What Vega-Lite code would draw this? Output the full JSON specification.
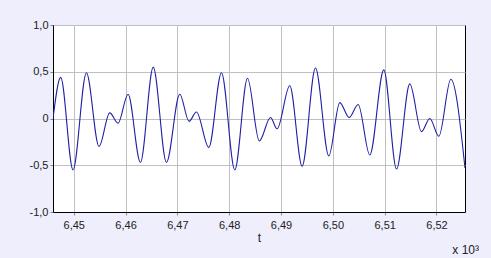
{
  "$schema": "https://vega.github.io/schema/vega-lite/v6.json",
  "autosize": "none",
  "width": 412,
  "height": 187,
  "padding": {"left": 53, "top": 25, "right": 26, "bottom": 46},
  "background": "#EEEEFC",
  "title": {"text": "x 10³", "orient": "bottom", "anchor": "end", "frame": "group", "dx": 14, "offset": 2, "font": "Liberation Sans", "fontSize": 12, "fontWeight": "normal", "color": "#222222"},
  "config": {
    "view": {"fill": "white", "stroke": "black", "strokeWidth": 1},
    "axis": {
      "labelFont": "Liberation Sans", "labelFontSize": 11, "labelColor": "#222222",
      "titleFont": "Liberation Sans", "titleFontSize": 12, "titleFontWeight": "normal", "titleColor": "#222222",
      "gridColor": "#C0C0C0", "gridOpacity": 1, "gridWidth": 1,
      "domainColor": "black", "tickColor": "#888888", "tickSize": 3
    }
  },
  "data": {"values": [
    {"t": 6.44600, "v": 0.00},
    {"t": 6.44749, "v": 0.44},
    {"t": 6.44986, "v": -0.55},
    {"t": 6.45245, "v": 0.49},
    {"t": 6.45488, "v": -0.30},
    {"t": 6.45695, "v": 0.06},
    {"t": 6.45855, "v": -0.05},
    {"t": 6.46048, "v": 0.26},
    {"t": 6.46287, "v": -0.47},
    {"t": 6.46534, "v": 0.55},
    {"t": 6.46789, "v": -0.47},
    {"t": 6.47046, "v": 0.26},
    {"t": 6.47225, "v": -0.03},
    {"t": 6.47368, "v": 0.07},
    {"t": 6.47606, "v": -0.31},
    {"t": 6.47851, "v": 0.49},
    {"t": 6.48108, "v": -0.55},
    {"t": 6.48353, "v": 0.43},
    {"t": 6.48581, "v": -0.24},
    {"t": 6.48797, "v": 0.01},
    {"t": 6.48924, "v": -0.11},
    {"t": 6.49169, "v": 0.35},
    {"t": 6.49407, "v": -0.51},
    {"t": 6.49665, "v": 0.54},
    {"t": 6.49922, "v": -0.40},
    {"t": 6.50134, "v": 0.17},
    {"t": 6.50314, "v": 0.01},
    {"t": 6.50488, "v": 0.15},
    {"t": 6.50713, "v": -0.39},
    {"t": 6.50983, "v": 0.52},
    {"t": 6.51229, "v": -0.54},
    {"t": 6.51485, "v": 0.37},
    {"t": 6.51711, "v": -0.14},
    {"t": 6.51871, "v": 0.00},
    {"t": 6.52045, "v": -0.19},
    {"t": 6.52277, "v": 0.42},
    {"t": 6.52550, "v": -0.53}
  ]},
  "mark": {"type": "line", "interpolate": "monotone", "color": "#1E1EA6", "strokeWidth": 1.1, "clip": true},
  "encoding": {
    "x": {"field": "t", "type": "quantitative",
      "scale": {"domain": [6.446, 6.5255], "nice": false, "zero": false},
      "axis": {"values": [6.45, 6.46, 6.47, 6.48, 6.49, 6.5, 6.51, 6.52], "title": "t", "labelPadding": 4, "titlePadding": 2,
        "labelExpr": "replace(format(datum.value, '.2f'), '.', ',')"}},
    "y": {"field": "v", "type": "quantitative",
      "scale": {"domain": [-1, 1], "nice": false},
      "axis": {"values": [-1, -0.5, 0, 0.5, 1], "title": null, "labelPadding": 2,
        "labelExpr": "datum.value == 0 ? '0' : (datum.value < 0 ? '-' : '') + replace(format(abs(datum.value), '.1f'), '.', ',')"}}
  }
}
